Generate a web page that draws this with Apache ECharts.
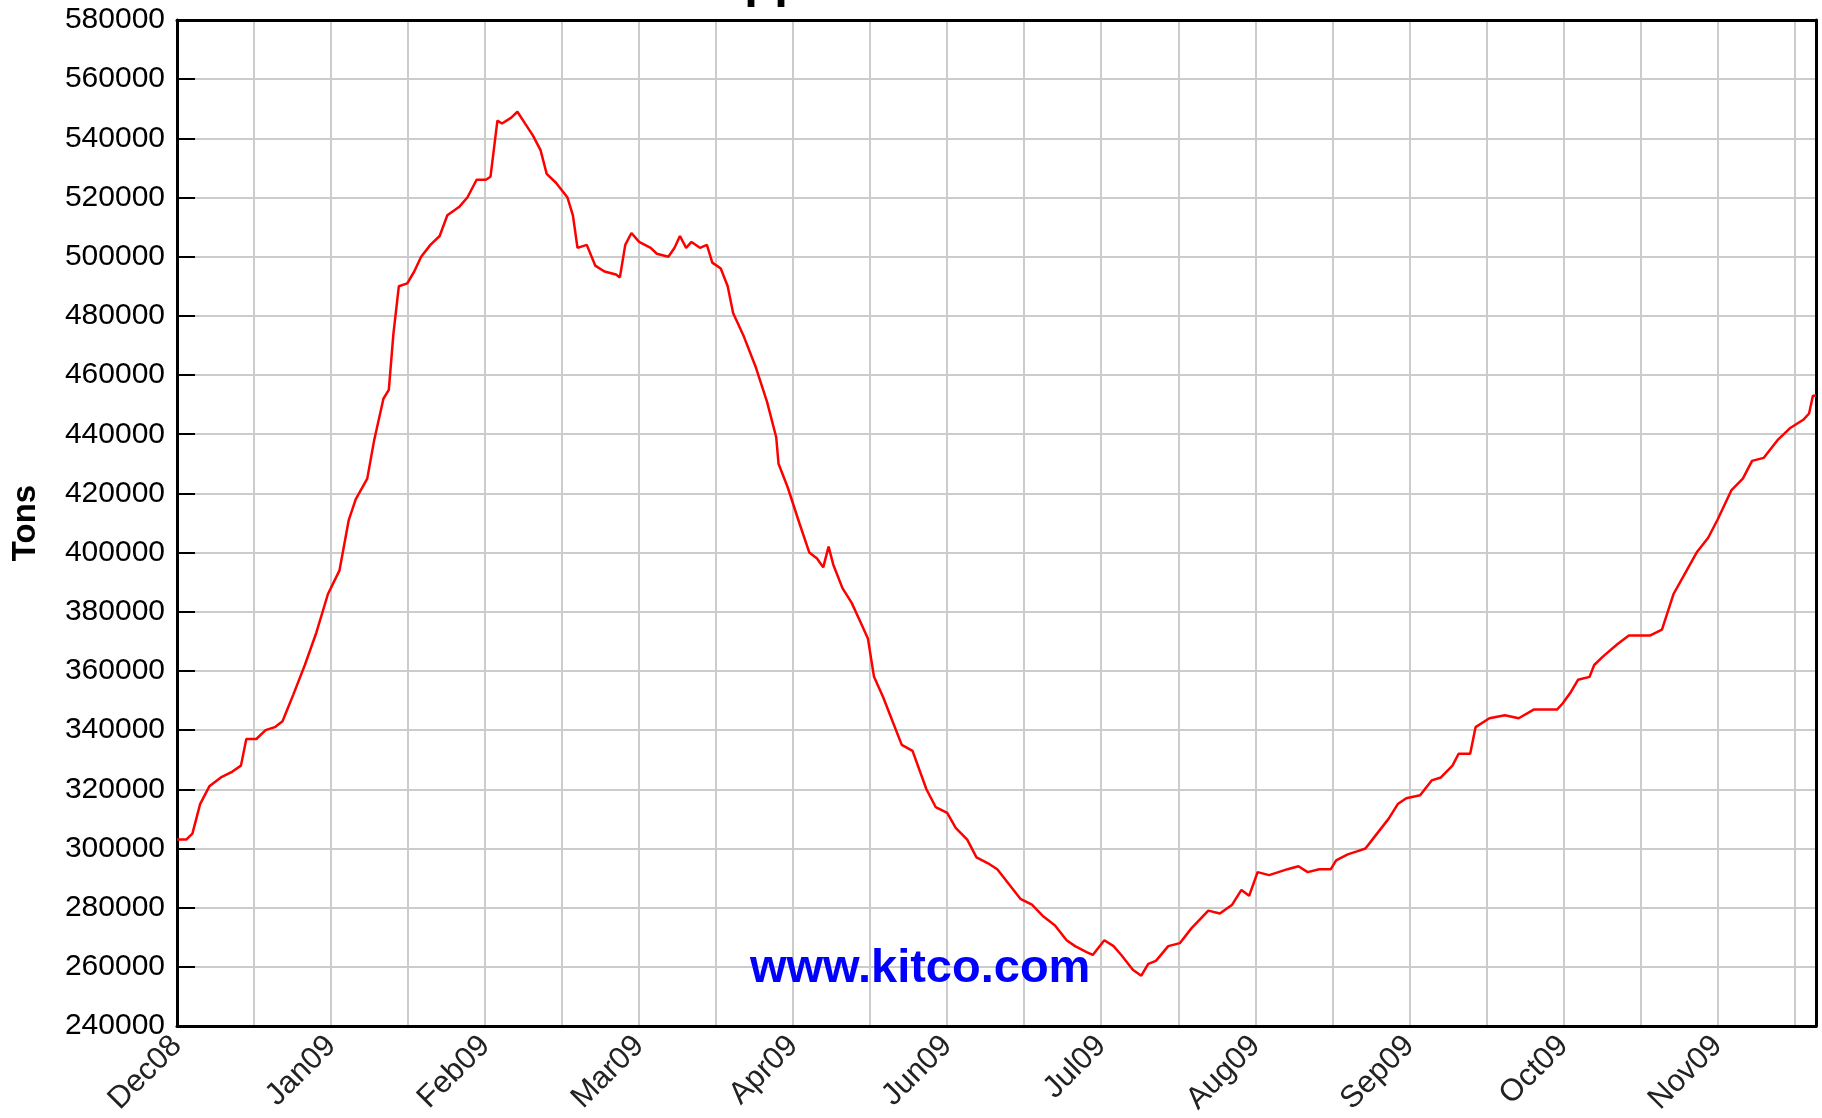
<!DOCTYPE html>
<html>
<head>
<meta charset="utf-8">
<title>LME Copper Stocks</title>
<script src="https://cdn.jsdelivr.net/npm/echarts@6/dist/echarts.min.js"></script>
<style>
	html, body { margin: 0; padding: 0; background: #fff; }
	#chart { width: 1822px; height: 1118px; }
</style>
</head>
<body>
<div id="chart"></div>
<script>
// month labels, one on every second gridline
let monthLabels = ["Dec08", "Jan09", "Feb09", "Mar09", "Apr09", "Jun09", "Jul09", "Aug09", "Sep09", "Oct09", "Nov09"];
// position in gridline steps from Dec08
let posX = [0, 0.12, 0.20, 0.30, 0.42, 0.57, 0.72, 0.83, 0.90, 1.03,
	1.15, 1.27, 1.37, 1.51, 1.66, 1.81, 1.96, 2.11, 2.23, 2.32,
	2.47, 2.56, 2.68, 2.75, 2.81, 2.88, 2.99, 3.08, 3.17, 3.29,
	3.41, 3.51, 3.67, 3.77, 3.89, 4.01, 4.07, 4.16, 4.22, 4.34,
	4.42, 4.52, 4.62, 4.72, 4.80, 4.92, 5.07, 5.14, 5.20, 5.32,
	5.43, 5.55, 5.70, 5.75, 5.82, 5.90, 6.00, 6.15, 6.23, 6.38,
	6.46, 6.53, 6.61, 6.68, 6.79, 6.88, 6.95, 7.06, 7.15, 7.22,
	7.36, 7.51, 7.66, 7.78, 7.81, 7.93, 8.08, 8.21, 8.31, 8.39,
	8.46, 8.52, 8.64, 8.76, 8.90, 8.97, 9.05, 9.17, 9.29, 9.41,
	9.55, 9.73, 9.85, 10.00, 10.11, 10.26, 10.38, 10.53, 10.65, 10.80,
	10.95, 11.10, 11.25, 11.40, 11.55, 11.66, 11.81, 11.89, 12.04, 12.16,
	12.26, 12.41, 12.52, 12.61, 12.71, 12.87, 13.02, 13.17, 13.39, 13.54,
	13.70, 13.82, 13.92, 14.03, 14.18, 14.30, 14.42, 14.56, 14.68, 14.83,
	14.98, 15.05, 15.20, 15.32, 15.43, 15.55, 15.73, 15.85, 15.96, 16.14,
	16.29, 16.41, 16.56, 16.64, 16.79, 16.86, 17.04, 17.24, 17.42, 17.62,
	17.92, 17.99, 18.10, 18.19, 18.34, 18.40, 18.52, 18.70, 18.85, 19.13,
	19.28, 19.43, 19.58, 19.73, 19.88, 20.00, 20.18, 20.33, 20.45, 20.60,
	20.78, 20.94, 21.12, 21.19, 21.24, 21.28];
// stocks, tons
let tons = [303000, 303000, 305000, 315000, 321000, 324000, 326000, 328000, 337000, 337000,
	340000, 341000, 343000, 352000, 362000, 373000, 386000, 394000, 411000, 418000,
	425000, 438000, 452000, 455000, 474000, 490000, 491000, 495000, 500000, 504000,
	507000, 514000, 517000, 520000, 526000, 526000, 527000, 546000, 545000, 547000,
	549000, 545000, 541000, 536000, 528000, 525000, 520000, 514000, 503000, 504000,
	497000, 495000, 494000, 493000, 504000, 508000, 505000, 503000, 501000, 500000,
	503000, 507000, 503000, 505000, 503000, 504000, 498000, 496000, 490000, 481000,
	473000, 463000, 451000, 439000, 430000, 422000, 410000, 400000, 398000, 395000,
	402000, 396000, 388000, 383000, 375000, 371000, 358000, 351000, 343000, 335000,
	333000, 320000, 314000, 312000, 307000, 303000, 297000, 295000, 293000, 288000,
	283000, 281000, 277000, 274000, 269000, 267000, 265000, 264000, 269000, 267000,
	264000, 259000, 257000, 261000, 262000, 267000, 268000, 273000, 279000, 278000,
	281000, 286000, 284000, 292000, 291000, 292000, 293000, 294000, 292000, 293000,
	293000, 296000, 298000, 299000, 300000, 304000, 310000, 315000, 317000, 318000,
	323000, 324000, 328000, 332000, 332000, 341000, 344000, 345000, 344000, 347000,
	347000, 349000, 353000, 357000, 358000, 362000, 365000, 369000, 372000, 372000,
	374000, 386000, 393000, 400000, 405000, 411000, 421000, 425000, 431000, 432000,
	438000, 442000, 445000, 447000, 453000, 453000];

let font = "'Liberation Sans', Arial, sans-serif";
let xMax = 21.28;

let lineData = [];
for(let i = 0; i < posX.length; i++) {
	lineData.push([posX[i], tons[i]]);
}

// frame axes: top and right only draw the black border
let frameX = {
	type: "value", position: "top", min: 0, max: xMax,
	axisLine: { show: true, onZero: false, lineStyle: { color: "#000", width: 3 } },
	axisTick: { show: false }, axisLabel: { show: false }, splitLine: { show: false }
};
let frameY = {
	type: "value", position: "right", min: 240000, max: 580000,
	axisLine: { show: true, onZero: false, lineStyle: { color: "#000", width: 3 } },
	axisTick: { show: false }, axisLabel: { show: false }, splitLine: { show: false }
};

let myChart = echarts.init(document.getElementById("chart"));
let option = {
	backgroundColor: "#fff",
	animation: false,
	grid: {
		left: 177,
		right: 6,
		top: 20,
		bottom: 92
	},
	xAxis: [{
		type: "value",
		min: 0,
		max: xMax,
		interval: 1,
		axisLine: { show: true, onZero: false, lineStyle: { color: "#000", width: 3 } },
		axisTick: { show: false },
		splitLine: { show: true, lineStyle: { color: "#cccccc", width: 2 } },
		axisLabel: {
			rotate: 45,
			margin: 15,
			fontFamily: font,
			fontSize: 31,
			color: "#222",
			showMaxLabel: false,
			formatter: function(v) {
				if(v % 2 !== 0) {
					return "";
				}
				return monthLabels[v / 2] || "";
			}
		}
	}, frameX],
	yAxis: [{
		type: "value",
		min: 240000,
		max: 580000,
		interval: 20000,
		name: "Tons",
		nameLocation: "middle",
		nameRotate: 90,
		nameGap: 135,
		nameTextStyle: { fontFamily: font, fontSize: 33, fontWeight: "bold", color: "#000" },
		axisLine: { show: true, onZero: false, lineStyle: { color: "#000", width: 3 } },
		axisTick: { show: true, inside: true, length: 18, lineStyle: { color: "#000", width: 2 } },
		splitLine: { show: true, lineStyle: { color: "#cccccc", width: 2 } },
		axisLabel: {
			margin: 12,
			fontFamily: font,
			fontSize: 30,
			color: "#000",
			formatter: function(v) {
				return String(v);
			}
		}
	}, frameY],
	graphic: [
		{
			// title sits above the canvas, only the descenders show
			type: "text",
			left: 562,
			top: -41,
			style: { text: "LME Copper Stocks", font: "bold 49px " + font, fill: "#000" }
		},
		{
			type: "text",
			left: 750,
			top: 946,
			z: 10,
			style: { text: "www.kitco.com", font: "bold 47px " + font, fill: "#0000ff" }
		}
	],
	series: [{
		type: "line",
		data: lineData,
		showSymbol: false,
		lineStyle: { color: "#ff0000", width: 2.5 }
	}]
};
myChart.setOption(option);
</script>
</body>
</html>
